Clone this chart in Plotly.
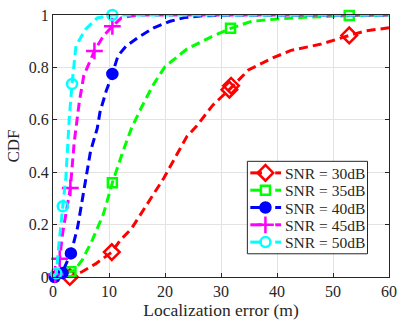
import plotly.graph_objects as go

# ---- data ----
names = ["SNR = 30dB", "SNR = 35dB", "SNR = 40dB", "SNR = 45dB", "SNR = 50dB"]
colors = ["#FF0000", "#00FF00", "#0000FF", "#FF00FF", "#00FFFF"]

x30 = [0, 3.0, 5.2, 7.6, 10.5, 12, 14, 16.9, 19.8, 23.9, 25.6, 28.5, 31.7, 34.9, 39, 42.5, 47.7, 52.9, 56, 60]
y30 = [0, 0.0, 0.02, 0.05, 0.095, 0.14, 0.184, 0.28, 0.378, 0.536, 0.575, 0.655, 0.72, 0.79, 0.834, 0.865, 0.888, 0.922, 0.94, 0.951]
mx30 = [3.0, 10.5, 31.5, 31.8, 52.9]
my30 = [0.0, 0.095, 0.715, 0.73, 0.922]

x35 = [0, 3.2, 3.8, 5.2, 7.0, 9.0, 10.2, 10.6, 12.5, 14, 15.7, 17.8, 20.0, 23.9, 27.9, 31.7, 35.5, 40.1, 44.8, 52.9, 60]
y35 = [0, 0.02, 0.025, 0.064, 0.14, 0.24, 0.328, 0.36, 0.48, 0.567, 0.643, 0.73, 0.803, 0.87, 0.913, 0.949, 0.976, 0.985, 0.991, 0.998, 1.0]
mx35 = [3.2, 10.6, 31.7, 52.9]
my35 = [0.02, 0.36, 0.949, 0.998]

x40 = [0, 0.3, 1.7, 3.2, 4.4, 5.2, 5.8, 6.7, 7.9, 8.4, 9.5, 10.6, 11.6, 13, 15.1, 18, 20.9, 23.5, 26.8, 32, 60]
y40 = [0, 0.0, 0.02, 0.09, 0.19, 0.29, 0.378, 0.48, 0.567, 0.63, 0.71, 0.775, 0.844, 0.88, 0.913, 0.951, 0.976, 0.99, 0.997, 1.0, 1.0]
mx40 = [0.3, 1.7, 3.2, 10.6]
my40 = [0.0, 0.015, 0.09, 0.775]

x45 = [0, 0.4, 1.2, 1.7, 2.3, 3.1, 3.8, 4.7, 5.5, 7.4, 9.0, 10.6, 12.2, 15.1, 60]
y45 = [0, 0.01, 0.07, 0.165, 0.24, 0.34, 0.517, 0.668, 0.769, 0.863, 0.92, 0.957, 0.989, 1.0, 1.0]
mx45 = [0.4, 1.2, 3.1, 7.4, 10.6]
my45 = [0.01, 0.07, 0.34, 0.863, 0.957]

x50 = [0, 0.6, 0.9, 1.2, 1.75, 2.3, 2.6, 2.9, 3.4, 4.1, 5.8, 7.9, 10.6, 60]
y50 = [0, 0.014, 0.09, 0.165, 0.27, 0.38, 0.517, 0.605, 0.737, 0.882, 0.945, 0.989, 1.0, 1.0]
mx50 = [0.6, 1.75, 3.4, 10.6]
my50 = [0.014, 0.27, 0.737, 1.0]

x_ticks = [0, 10, 20, 30, 40, 50, 60]
y_ticks = [0, 0.2, 0.4, 0.6, 0.8, 1]

lines = [(x30, y30), (x35, y35), (x40, y40), (x45, y45), (x50, y50)]
marks = [(mx30, my30), (mx35, my35), (mx40, my40), (mx45, my45), (mx50, my50)]
symbols = ["diamond-open", "square-open", "circle", "cross-thin-open", "circle-open"]
msizes = [12, 9, 10, 12, 10]

FONT = "Liberation Serif, Times New Roman, serif"
DASH = "9px,5px"
INK = "#262626"

# plot area in pixels (layout only)
L, R, T, B = 53, 397, 12, 277
W, H = 404, 322

fig = go.Figure()
for i in range(5):
    lx, ly = lines[i]
    mx, my = marks[i]
    c = colors[i]
    fig.add_trace(go.Scatter(x=lx, y=ly, mode="lines", showlegend=False,
                             line=dict(color=c, width=3, dash=DASH),
                             hoverinfo="skip"))
    fig.add_trace(go.Scatter(x=mx, y=my, mode="markers", showlegend=False,
                             cliponaxis=False,
                             marker=dict(symbol=symbols[i], size=msizes[i], color=c,
                                         line=dict(color=c, width=2.5))))

# ---- manual legend (pixel-coordinate overlay axes) ----
box_l, box_r, box_t, box_b = 252, 375, 160, 253.5
fig.add_trace(go.Scatter(x=[box_l, box_r, box_r, box_l, box_l],
                         y=[box_t, box_t, box_b, box_b, box_t],
                         xaxis="x2", yaxis="y2", mode="lines", fill="toself",
                         fillcolor="white", line=dict(color=INK, width=1),
                         showlegend=False, hoverinfo="skip"))
row_y0, row_dy = 171.7, 17.5
for i in range(5):
    c = colors[i]
    yy = row_y0 + i * row_dy
    fig.add_trace(go.Scatter(x=[255, 267], y=[yy, yy], xaxis="x2", yaxis="y2",
                             mode="lines", line=dict(color=c, width=3),
                             showlegend=False, hoverinfo="skip"))
    fig.add_trace(go.Scatter(x=[280.5, 286.5], y=[yy, yy], xaxis="x2", yaxis="y2",
                             mode="lines", line=dict(color=c, width=3),
                             showlegend=False, hoverinfo="skip"))
    fig.add_trace(go.Scatter(x=[270.5], y=[yy], xaxis="x2", yaxis="y2",
                             mode="markers", cliponaxis=False,
                             marker=dict(symbol=symbols[i], size=msizes[i], color=c,
                                         line=dict(color=c, width=2.5)),
                             showlegend=False, hoverinfo="skip"))
    fig.add_annotation(x=289, y=yy, xref="x2", yref="y2", text=names[i],
                       showarrow=False, xanchor="left", yanchor="middle",
                       height=16, borderpad=0,
                       font=dict(family=FONT, size=15.5, color=INK))

axis_common = dict(showgrid=True, gridcolor="#E3E3E3", gridwidth=1,
                   showline=True, linecolor=INK, linewidth=1, mirror="ticks",
                   ticks="inside", ticklen=4, tickcolor=INK,
                   zeroline=False, tickfont=dict(family=FONT, size=16, color=INK))

fig.update_layout(
    width=W, height=H,
    margin=dict(l=L, r=W - R, t=T, b=H - B),
    paper_bgcolor="white", plot_bgcolor="white",
    font=dict(family=FONT, size=16, color=INK),
    xaxis=dict(range=[0, 60], tickvals=x_ticks, ticktext=[str(v) for v in x_ticks],
               title=dict(text="Localization error (m)", font=dict(family=FONT, size=17.5), standoff=2),
               **axis_common),
    yaxis=dict(range=[0, 1], tickvals=y_ticks, ticktext=["0", "0.2", "0.4", "0.6", "0.8", "1"],
               title=dict(text="CDF", font=dict(family=FONT, size=17), standoff=4),
               **axis_common),
    xaxis2=dict(overlaying="x", range=[L, R], visible=False, fixedrange=True),
    yaxis2=dict(overlaying="y", range=[B, T], visible=False, fixedrange=True),
    showlegend=False,
)

fig.write_html("out.html")
